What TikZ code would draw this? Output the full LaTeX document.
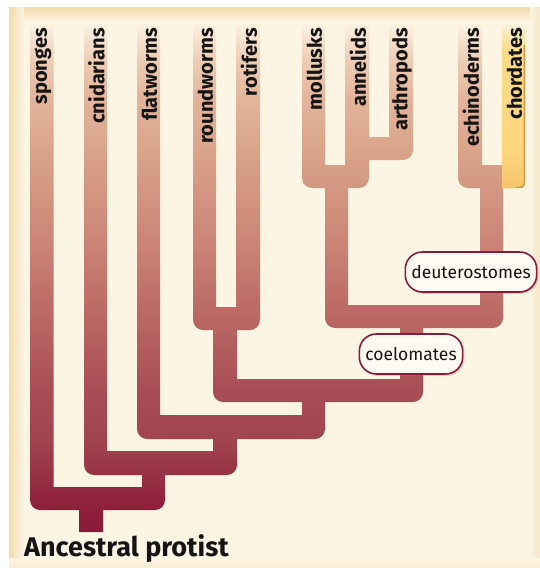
\documentclass[tikz,border=0pt]{standalone}
\usepackage{fontspec}
\setmainfont{Fira Sans}
\usepackage{tikz}
\usetikzlibrary{shadows, positioning}
\definecolor{paper}{HTML}{FDF5E4}
\definecolor{paperedge}{HTML}{F1DAAA}
\definecolor{branchdark}{HTML}{8A1A37}
\definecolor{branchA}{HTML}{8E1E3A}
\definecolor{branchB}{HTML}{A0444F}
\definecolor{branchC}{HTML}{A84D55}
\definecolor{branchD}{HTML}{BE6E68}
\definecolor{branchE}{HTML}{CB8576}
\definecolor{branchF}{HTML}{D9A48A}
\definecolor{branchG}{HTML}{E2B49A}
\definecolor{branchH}{HTML}{EDCDB5}
\definecolor{branchI}{HTML}{F7E5D3}
\definecolor{chordlow}{HTML}{F5C46A}
\definecolor{chordmid}{HTML}{FCD67E}
\definecolor{chordhigh}{HTML}{FDDC86}
\definecolor{chordtop}{HTML}{FBE6B0}
\definecolor{chordedge}{HTML}{D9964C}
\definecolor{tagfill}{HTML}{FFFBF3}
\pgfdeclareverticalshading{branchshade}{100bp}{
  color(0bp)=(branchdark); color(25bp)=(branchdark);
  color(27.2bp)=(branchA); color(34bp)=(branchB);
  color(38.9bp)=(branchC); color(47.7bp)=(branchD);
  color(53.6bp)=(branchE); color(62.5bp)=(branchF);
  color(67.4bp)=(branchG); color(71.3bp)=(branchH);
  color(73.7bp)=(branchI); color(75bp)=(paper); color(100bp)=(paper)}
\pgfdeclareverticalshading{chordshade}{100bp}{
  color(0bp)=(chordlow); color(25bp)=(chordlow);
  color(36bp)=(chordmid); color(66bp)=(chordhigh);
  color(71bp)=(chordtop); color(75bp)=(paper); color(100bp)=(paper)}
\tikzset{
  taxon/.style={rotate=90, anchor=east, inner sep=0pt,
    font=\bfseries\fontsize{20}{23}\selectfont, text=black!92},
  tag/.style={rectangle, rounded corners=17pt, draw=branchdark, fill=tagfill,
    line width=1.6pt, inner xsep=6pt, minimum height=40pt,
    font=\fontsize{17.5}{20}\selectfont, text=black!92,
    drop shadow={shadow xshift=1.8pt, shadow yshift=-1.8pt, opacity=0.3}},
  rootlabel/.style={anchor=base west, inner sep=0pt,
    font=\bfseries\fontsize{27}{30}\selectfont, text=black!92}
}

\begin{document}
\begin{tikzpicture}[x=1pt, y=-1pt]
  \useasboundingbox (0,0) rectangle (540,568);
  % page and panel
  \fill[white] (0,0) rectangle (540,568);
  \fill[paper] (9,7) rectangle (540,568);
  \shade[top color=paperedge, bottom color=paper] (9,7) rectangle (540,22);
  \shade[left color=paperedge, right color=paper, fill opacity=0.9] (9,7) rectangle (24,568);
  \shade[left color=paper, right color=paperedge!70] (530,7) rectangle (540,568);
  \shade[top color=paper, bottom color=paperedge!50] (9,558) rectangle (540,568);

  % straight pieces: columns and stems
  \begin{scope}
    \clip
      foreach \xa/\xb/\yb in {30/53.5/500, 84/107/465, 137/160/429, 193/216/320,
        236/260/320, 302/325/178, 345/369/178, 389/413/150, 458/482/178}
        {(\xa,22) rectangle (\xb,\yb)}
      foreach \xa/\ya/\xb/\yb in {325/180/348/318, 480/180/503/318, 400/320/423/392,
        213/322/237/392, 302/395/325/429, 213/432/237/465, 142/468/165/500, 79/505/103/532}
        {(\xa,\ya) rectangle (\xb,\yb)};
    \shade[shading=branchshade] (0,22) rectangle (540,532);
  \end{scope}

  % cross bars with round outer corners
  \begin{scope}
    \clip[rounded corners=10pt]
      foreach \xa/\ya/\xb/\yb in {357/137/413/160, 302/165/369/188, 458/165/525/188,
        325/305/503/328, 193/307/260/330, 213/379/423/402, 137/415/325/439,
        84/451/237/475, 30/487/165/510}
        {(\xa,\ya) rectangle (\xb,\yb)};
    \shade[shading=branchshade] (0,22) rectangle (540,532);
  \end{scope}

  % chordates
  \shade[shading=chordshade] (502,22) -- (525,22) -- (525,179)
    .. controls (525,188) .. (516,188) -- (502,188) -- cycle;
  \draw[chordedge, line width=1.4pt] (524.3,45) -- (524.3,179)
    .. controls (524.3,187.3) .. (516,187.3);

  % taxa
  \foreach \name/\x in {sponges/42, cnidarians/95.5, flatworms/148.5,
    roundworms/204.5, rotifers/248, mollusks/313.5, annelids/357,
    arthropods/401, echinoderms/470, chordates/513.5}
    \node[taxon] (\name) at (\x+1,28) {\name};

  % group tags
  \node[tag] (deutero) at (471,272) {deuterostomes};
  \node[tag] (coelom) at (411,354) {coelomates};

  \node[rootlabel] (protist) at (24,556) {Ancestral protist};
\end{tikzpicture}
\end{document}
